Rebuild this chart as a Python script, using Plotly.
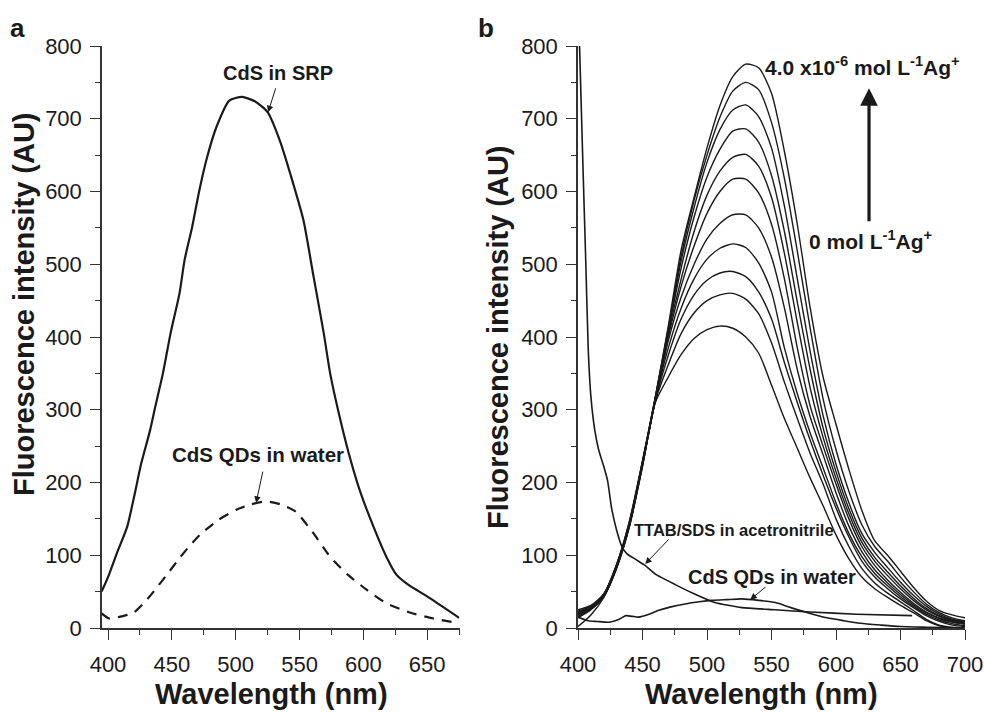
import plotly.graph_objects as go

# ---------------- Panel a data ----------------
wl_a_srp = [395, 400, 407, 415, 421, 426, 433, 437, 443, 449, 456, 460, 466, 471, 477, 485,
            495, 505, 515, 525, 535, 543, 553, 561, 569, 574, 582, 590, 598, 608, 618, 626,
            634, 652, 675]
int_a_srp = [50, 70, 103, 139, 185, 226, 272, 304, 350, 405, 460, 506, 552, 597, 643, 689,
             725, 730, 724, 709, 668, 623, 561, 483, 405, 350, 286, 231, 185, 139, 98, 73,
             61, 41, 14]

wl_a_water = [395, 401, 408, 415, 420, 430, 438, 446, 456, 464, 472, 486, 501, 512, 524,
              535, 547, 561, 574, 588, 603, 618, 637, 655, 675]
int_a_water = [20, 13, 15, 18, 21, 38, 55, 73, 96, 113, 128, 148, 163, 170, 174,
               170, 160, 130, 98, 73, 52, 34, 21, 13, 6.5]

# ---------------- Panel b data ----------------
wl_b = [400, 410, 420, 430, 440, 450, 460, 470, 480, 490, 500, 510, 520, 530, 540, 550,
        560, 570, 580, 590, 600, 610, 620, 630, 640, 650, 660, 670, 680, 690, 700]
ag_0 = [2, 18, 42, 82, 140, 222, 310, 345, 376, 398, 410, 415, 412, 400, 378, 334, 288, 247, 206, 168, 128, 95, 70, 54, 42, 31, 21, 10, 3, 0, 0]
ag_1 = [14, 25, 43, 83, 141, 223, 312, 362, 405, 433, 450, 458, 460, 452, 432, 392, 338, 288, 240, 198, 150, 112, 82, 62, 48, 36, 24, 12, 4, 1, 0]
ag_2 = [16, 26, 44, 84, 142, 224, 313, 375, 425, 458, 478, 488, 490, 483, 462, 425, 365, 310, 258, 210, 165, 125, 92, 70, 54, 40, 28, 17, 9, 4, 2]
ag_3 = [15, 26, 44, 84, 142, 225, 314, 385, 440, 480, 507, 522, 528, 523, 502, 462, 385, 322, 268, 220, 172, 130, 98, 75, 58, 43, 30, 19, 11, 6, 3]
ag_4 = [18, 27, 45, 85, 143, 225, 314, 395, 455, 500, 535, 556, 568, 568, 550, 510, 440, 355, 290, 238, 186, 140, 105, 80, 62, 46, 32, 21, 13, 8, 5]
ag_5 = [20, 28, 45, 85, 143, 226, 315, 400, 470, 525, 570, 600, 617, 617, 598, 555, 480, 385, 305, 250, 198, 150, 112, 86, 66, 49, 34, 22, 14, 9, 6]
ag_6 = [19, 28, 46, 86, 144, 227, 316, 405, 480, 545, 595, 628, 647, 651, 635, 592, 515, 420, 330, 262, 206, 157, 118, 92, 72, 54, 38, 25, 16, 10, 7]
ag_7 = [21, 29, 46, 86, 145, 228, 316, 408, 495, 565, 620, 658, 683, 686, 668, 622, 545, 448, 355, 275, 215, 164, 124, 97, 77, 58, 41, 27, 17, 11, 8]
ag_8 = [22, 29, 46, 87, 146, 228, 317, 410, 505, 578, 640, 685, 712, 719, 703, 660, 580, 480, 380, 292, 225, 172, 130, 104, 83, 63, 45, 30, 19, 12, 9]
ag_9 = [23, 30, 47, 87, 147, 229, 318, 412, 512, 588, 650, 702, 738, 750, 740, 695, 618, 518, 412, 315, 245, 188, 142, 112, 92, 70, 50, 33, 21, 14, 10]
ag_10 = [25, 31, 47, 88, 148, 230, 318, 415, 520, 592, 660, 718, 758, 775, 770, 735, 655, 555, 440, 345, 280, 218, 162, 120, 100, 78, 56, 37, 24, 18, 14]
ag_series = [ag_0, ag_1, ag_2, ag_3, ag_4, ag_5, ag_6, ag_7, ag_8, ag_9, ag_10]

wl_ttab = [400, 402, 404, 406, 408, 410, 413, 416, 420, 423, 426, 430, 434, 438, 445, 452,
           460, 475, 490, 506, 527, 553, 580, 616, 659]
int_ttab = [875, 750, 625, 505, 380, 318, 272, 245, 222, 202, 165, 134, 112, 102, 94, 86,
            74, 60, 47, 35, 28, 25, 22, 19, 17]

wl_b_water = [400, 408, 415, 424, 432, 437, 442, 447, 455, 462, 472, 483, 494, 504, 515, 527,
              540, 553, 565, 580, 593, 606, 619, 635, 650, 670, 696, 700]
int_b_water = [15, 10, 9, 8, 12, 17, 16, 15, 19, 24, 29, 33, 36, 38, 39, 40,
               38, 35, 28, 20, 14, 10, 6.5, 4, 2, 1, 0, 0]

# ---------------- Figure ----------------
FONT = "Liberation Sans, Arial, Helvetica, sans-serif"
INK = "#1a1a1a"

fig = go.Figure()

fig.add_trace(go.Scatter(x=wl_a_srp, y=int_a_srp, mode="lines",
                         line=dict(color=INK, width=2.2, shape="spline", smoothing=0.6),
                         xaxis="x", yaxis="y", showlegend=False))
fig.add_trace(go.Scatter(x=wl_a_water, y=int_a_water, mode="lines",
                         line=dict(color=INK, width=2.2, dash="10px,8px", shape="spline", smoothing=0.6),
                         xaxis="x", yaxis="y", showlegend=False))

for s in ag_series:
    fig.add_trace(go.Scatter(x=wl_b, y=s, mode="lines",
                             line=dict(color=INK, width=1.4, shape="spline", smoothing=0.7),
                             xaxis="x2", yaxis="y2", showlegend=False))
fig.add_trace(go.Scatter(x=wl_ttab, y=int_ttab, mode="lines",
                         line=dict(color=INK, width=1.6, shape="spline", smoothing=0.5),
                         xaxis="x2", yaxis="y2", showlegend=False))
fig.add_trace(go.Scatter(x=wl_b_water, y=int_b_water, mode="lines",
                         line=dict(color=INK, width=1.6, shape="spline", smoothing=0.6),
                         xaxis="x2", yaxis="y2", showlegend=False))

H = 712.0
W = 984.0
ya_dom = [1 - 628 / H, 1 - 46 / H]
xa_dom = [102 / W, 459.5 / W]
xb_dom = [578 / W, 965 / W]

tickfont = dict(family=FONT, size=22, color=INK)

def xax(dom, rng, anchor):
    return dict(domain=dom, range=rng, anchor=anchor, showline=True, linecolor="#333",
                linewidth=1.5, ticks="outside", ticklen=10, tickwidth=1.3, tickcolor="#333",
                tick0=400, dtick=50, tickfont=tickfont, showgrid=False, zeroline=False,
                automargin=False,
                minor=dict(ticks="outside", ticklen=5, tickwidth=1.2, tickcolor="#333", dtick=25, tick0=400, showgrid=False),
                ticklabelstandoff=6)

def yax(anchor):
    return dict(domain=ya_dom, range=[0, 800], anchor=anchor, showline=True, linecolor="#333",
                linewidth=1.5, ticks="outside", ticklen=10, tickwidth=1.3, tickcolor="#333",
                tick0=0, dtick=100, tickfont=tickfont, showgrid=False, zeroline=False,
                automargin=False,
                minor=dict(ticks="outside", ticklen=5, tickwidth=1.2, tickcolor="#333", dtick=50, showgrid=False),
                ticklabelstandoff=4)

def top_ax(over, rng, d, anchor):
    return dict(overlaying=over, side="top", anchor=anchor, range=rng, tick0=rng[0], dtick=d,
                ticks="inside", ticklen=4, tickwidth=1, tickcolor="#444", showticklabels=False,
                showline=True, linecolor="#333", linewidth=1.5, showgrid=False, zeroline=False,
                automargin=False)

def right_ax(over, d, anchor):
    return dict(overlaying=over, side="right", anchor=anchor, range=[0, 800], tick0=0, dtick=d,
                ticks="inside", ticklen=4, tickwidth=1, tickcolor="#444", showticklabels=False,
                showline=True, linecolor="#333", linewidth=1.5, showgrid=False, zeroline=False,
                automargin=False)

rng_a = [395.3, 675.3]
rng_b = [400, 700]

fig.update_layout(
    template="none",
    width=984, height=712,
    margin=dict(l=0, r=0, t=0, b=0, pad=0, autoexpand=False),
    paper_bgcolor="white", plot_bgcolor="white",
    font=dict(family=FONT, color=INK),
    xaxis=xax(xa_dom, rng_a, "y"),
    yaxis=yax("x"),
    xaxis2=xax(xb_dom, rng_b, "y2"),
    yaxis2=yax("x2"),
    xaxis3=top_ax("x", rng_a, 28, "y"),
    yaxis3=right_ax("y", 80, "x"),
    xaxis4=top_ax("x2", rng_b, 30, "y2"),
    yaxis4=right_ax("y2", 80, "x2"),
)

ann = []

def paper_text(x, y, text, size, angle=0, xanchor="center", yanchor="middle"):
    ann.append(dict(xref="paper", yref="paper", x=x / W, y=1 - y / H, text=text, showarrow=False,
                    font=dict(family=FONT, size=size, color=INK), textangle=angle,
                    xanchor=xanchor, yanchor=yanchor))

# panel letters
paper_text(17, 28, "<b>a</b>", 26)
paper_text(486, 28, "<b>b</b>", 26)
# axis titles
paper_text(24, 304, "<b>Fluorescence intensity (AU)</b>", 29, angle=-90)
paper_text(498, 337, "<b>Fluorescence intensity (AU)</b>", 29, angle=-90)
paper_text(271, 694, "<b>Wavelength (nm)</b>", 29)
paper_text(761, 694, "<b>Wavelength (nm)</b>", 29)

def data_text(xr, yr, x, y, text, size, xanchor="center"):
    ann.append(dict(xref=xr, yref=yr, x=x, y=y, text=text, showarrow=False,
                    font=dict(family=FONT, size=size, color=INK), xanchor=xanchor, yanchor="middle"))

def data_arrow(xr, yr, x0, y0, x1, y1, width=1.0, head=2, size=1.0):
    ann.append(dict(xref=xr, yref=yr, axref=xr, ayref=yr, x=x1, y=y1, ax=x0, ay=y0, text="",
                    showarrow=True, arrowhead=head, arrowsize=size, arrowwidth=width,
                    arrowcolor=INK, standoff=0, startstandoff=0))

# panel a labels
data_text("x", "y", 533.5, 763, "<b>CdS in SRP</b>", 20)
data_arrow("x", "y", 531.7, 744, 525.4, 709, width=1.0, head=2, size=1.3)
data_text("x", "y", 517.6, 238, "<b>CdS QDs in water</b>", 20.5)
data_arrow("x", "y", 521.5, 217, 516.0, 172, width=1.0, head=2, size=1.3)

# panel b labels
data_text("x2", "y2", 543.5, 773, "<b>4.0 x10<sup>-6</sup> mol L<sup>-1</sup>Ag<sup>+</sup></b>", 21, xanchor="left")
data_text("x2", "y2", 577.5, 533, "<b>0 mol L<sup>-1</sup>Ag<sup>+</sup></b>", 21, xanchor="left")
data_arrow("x2", "y2", 625.6, 557, 625.6, 742, width=3.2, head=2, size=1.1)
data_text("x2", "y2", 521, 135, "<b>TTAB/SDS in acetronitrile</b>", 16.5)
data_arrow("x2", "y2", 471.5, 124, 452.1, 88, width=1.0, head=2, size=1.3)
data_text("x2", "y2", 550.5, 70, "<b>CdS QDs in water</b>", 20)
data_arrow("x2", "y2", 546.6, 58, 533.5, 39, width=1.0, head=2, size=1.3)

fig.update_layout(annotations=ann)

fig.write_html("out.html", config={"displayModeBar": False},
               post_script="document.body.style.margin='0';document.body.style.padding='0';")
